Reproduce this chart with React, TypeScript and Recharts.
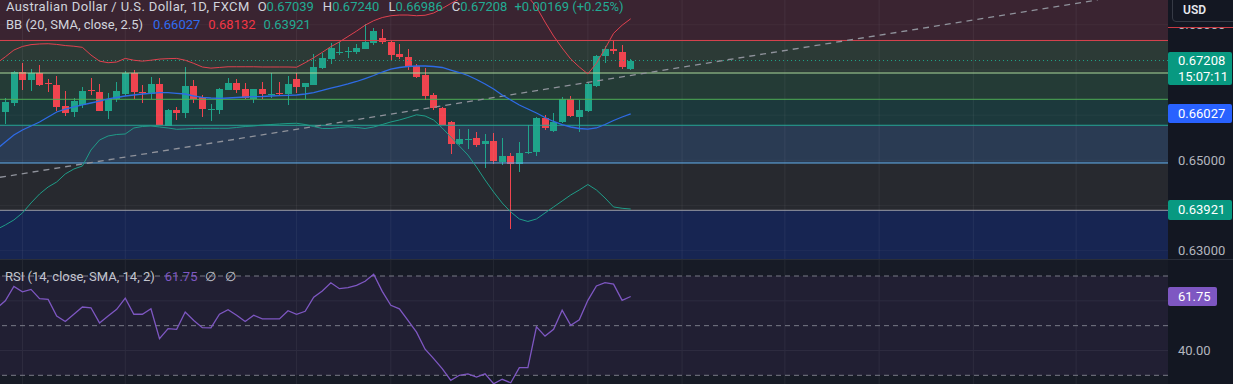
import React from 'react';
import { ComposedChart, Bar, Line, XAxis, YAxis, ReferenceArea, ReferenceLine } from 'recharts';

// ---- OHLC (bars 0..73) ----
const opens = [0.66076,0.66276,0.66961,0.66778,0.66926,0.66712,0.66667,0.66203,0.66054,0.66225,0.6655,0.66519,0.66099,0.66351,0.66468,0.66926,0.66502,0.66468,0.66689,0.65759,0.66114,0.66054,0.66645,0.66395,0.66103,0.66114,0.66557,0.66718,0.66572,0.66351,0.66572,0.66461,0.6649,0.66468,0.66793,0.66616,0.66667,0.67036,0.67242,0.67364,0.6739,0.67404,0.67464,0.67586,0.67697,0.67621,0.67343,0.6729,0.67094,0.66888,0.66446,0.66164,0.65841,0.65354,0.65443,0.655,0.65361,0.65434,0.64969,0.65095,0.64918,0.65162,0.65168,0.6593,0.65655,0.65832,0.66351,0.65965,0.66099,0.66645,0.67294,0.67454,0.67401,0.67039];
const highs = [0.66374,0.66984,0.67148,0.67014,0.6711,0.66793,0.66866,0.66542,0.66374,0.6663,0.66815,0.66689,0.66497,0.6674,0.66984,0.66999,0.66667,0.6685,0.66815,0.66129,0.66188,0.67073,0.66778,0.66446,0.66247,0.66594,0.66815,0.66793,0.66704,0.6658,0.6674,0.66926,0.6674,0.66866,0.66926,0.66718,0.67353,0.67368,0.6759,0.67625,0.67514,0.67567,0.68006,0.67931,0.67902,0.67663,0.67564,0.6746,0.67125,0.67036,0.66483,0.6619,0.6587,0.65693,0.65686,0.65633,0.65582,0.65598,0.65487,0.65168,0.65412,0.65781,0.65952,0.66003,0.66054,0.66395,0.66424,0.66336,0.66718,0.67331,0.67526,0.67647,0.67548,0.6724];
const lows = [0.65805,0.66203,0.66557,0.66519,0.66645,0.66497,0.66099,0.65996,0.65952,0.66174,0.66446,0.66092,0.65929,0.66297,0.66424,0.66351,0.66276,0.66374,0.65766,0.6575,0.65893,0.65952,0.66276,0.65952,0.65877,0.66025,0.66542,0.66483,0.66351,0.66276,0.66374,0.66374,0.66446,0.66225,0.66483,0.66374,0.66656,0.67014,0.67125,0.67331,0.67271,0.67346,0.67453,0.67564,0.67564,0.67195,0.67221,0.66999,0.66815,0.66336,0.66114,0.65783,0.65133,0.65339,0.65243,0.65301,0.64823,0.64918,0.64896,0.63495,0.64748,0.65139,0.65095,0.65672,0.65626,0.65819,0.65952,0.65633,0.66077,0.66623,0.67157,0.67349,0.67014,0.66986];
const closes = [0.66292,0.66961,0.66793,0.66939,0.66667,0.66701,0.66188,0.66054,0.66305,0.66535,0.66527,0.66099,0.66365,0.66535,0.66926,0.66497,0.6649,0.66689,0.65781,0.66114,0.66054,0.66645,0.66351,0.66136,0.66125,0.66572,0.66718,0.66557,0.66373,0.66572,0.66468,0.66474,0.66476,0.66689,0.66616,0.66704,0.67059,0.67257,0.67492,0.67386,0.67419,0.67492,0.67608,0.67858,0.67608,0.67343,0.67268,0.67072,0.6685,0.6643,0.66151,0.65796,0.65354,0.65471,0.65465,0.65354,0.65427,0.64991,0.65095,0.64918,0.65168,0.65177,0.6593,0.65708,0.65854,0.66351,0.65965,0.66114,0.66689,0.67309,0.67454,0.67401,0.67058,0.67208];

// ---- Bollinger Bands & RSI (bars -1..73) ----
const bbUpper = [0.6715,0.6729,0.6744,0.6752,0.6756,0.67575,0.6758,0.67565,0.6754,0.67525,0.675,0.6733,0.67195,0.6716,0.67175,0.67255,0.67215,0.67195,0.67215,0.6724,0.6725,0.67255,0.67215,0.67145,0.67065,0.6704,0.67055,0.6707,0.6707,0.6707,0.6707,0.67065,0.67065,0.67065,0.67065,0.6706,0.6716,0.6727,0.6739,0.67515,0.6762,0.6774,0.6786,0.6799,0.6809,0.6816,0.682,0.68215,0.68215,0.682,0.6821,0.6826,0.6836,0.6847,0.6857,0.6864,0.68724,0.68814,0.68858,0.68835,0.68812,0.68747,0.68624,0.68393,0.6806,0.67751,0.67485,0.67242,0.67065,0.66912,0.6715,0.6747,0.6781,0.6799,0.68132];
const bbMiddle = [0.6525,0.65405,0.6556,0.65671,0.65759,0.65848,0.65958,0.66069,0.66135,0.6618,0.66224,0.66268,0.66312,0.66357,0.6639,0.66423,0.66445,0.66467,0.66483,0.66496,0.66496,0.66483,0.66467,0.66423,0.66394,0.66379,0.66372,0.66379,0.6639,0.66401,0.66407,0.66412,0.66423,0.6643,0.66438,0.66445,0.66467,0.665,0.66545,0.666,0.66644,0.66689,0.66744,0.6681,0.66877,0.66954,0.6702,0.67054,0.67076,0.67087,0.67087,0.67076,0.67054,0.66998,0.66943,0.66877,0.66788,0.66689,0.66578,0.66445,0.66334,0.66224,0.66135,0.66047,0.65947,0.65859,0.65792,0.65737,0.65704,0.65688,0.65715,0.65792,0.65881,0.65958,0.66027];
const bbLower = [0.6347,0.63568,0.63679,0.63834,0.64055,0.64254,0.64409,0.6452,0.64697,0.64807,0.64874,0.65228,0.65449,0.65538,0.65571,0.65582,0.65715,0.65748,0.65759,0.65737,0.65715,0.65686,0.65693,0.65704,0.65708,0.65708,0.65708,0.65708,0.65726,0.65748,0.65759,0.65781,0.65792,0.65803,0.65814,0.65819,0.65792,0.65748,0.65704,0.65704,0.65726,0.65741,0.65726,0.65704,0.65737,0.65792,0.65848,0.65892,0.65947,0.66007,0.6598,0.65892,0.65715,0.65516,0.65316,0.65117,0.64852,0.64564,0.64298,0.64055,0.63856,0.63701,0.63646,0.63701,0.63834,0.63967,0.64099,0.64232,0.64343,0.64464,0.64343,0.64166,0.63967,0.63938,0.63921];
const rsiValues = [57.0,60.0,65.8,63.6,64.6,60.9,60.6,53.9,51.7,54.6,57.5,57.2,51.1,53.9,56.6,61.1,54.6,54.6,56.8,44.8,48.8,48.5,55.5,52.1,49.2,49.1,54.6,56.4,54.2,51.7,54.2,52.7,52.7,52.7,56.0,54.6,55.8,61.5,64.0,67.3,64.9,65.3,66.2,67.9,70.7,63.8,58.2,56.8,52.1,47.4,40.5,36.7,32.7,28.0,30.0,30.6,29.3,30.6,26.6,28.4,27.0,33.1,33.1,49.5,45.8,48.5,56.2,50.1,52.4,60.2,66.0,67.3,66.7,60.2,61.75];

// ---- drawings ----
const levelPrices = [0.67652, 0.66932, 0.6635, 0.65775, 0.6494, 0.63893];
const levelColors = ['#d9434f', '#a9d99b', '#4fae55', '#26a896', '#64b1ee', '#9a9da6'];
const zoneColors = ['#3a2431', '#2c3a36', '#243b36', '#1c393c', '#2a3b53', '#27292f', '#172552'];
const priceTop = 0.68548;
const priceBottom = 0.62815;
const trendline = [{ x: -0.62, y: 0.64624 }, { x: 127.5, y: 0.68548 }];
const lastClose = 0.67208;
const gridBars = [2, 14, 34, 45, 57, 68, 79, 91, 102, 113, 125];
const priceGrid = [0.63, 0.64, 0.65, 0.66, 0.67, 0.68];
const priceTicks = [0.63, 0.65, 0.68];
const rsiTicks = [40];
const rsiBands = [70, 50, 30];
const rsiGrid = [60, 40];
const xDomain: [number, number] = [-0.62, 135.72];

const UP = '#1fa48a';
const DOWN = '#f0444f';

const rows = bbMiddle.map((m, k) => {
  const i = k - 1;
  const has = i >= 0;
  return {
    i,
    o: has ? opens[i] : null,
    h: has ? highs[i] : null,
    l: has ? lows[i] : null,
    c: has ? closes[i] : null,
    up: bbUpper[k],
    mid: m,
    lo: bbLower[k],
    rsi: rsiValues[k],
  };
});

const zoneEdges = [priceTop, ...levelPrices, priceBottom];

const Candle = (props: any) => {
  const { x, y, width, height, payload } = props;
  if (!payload || payload.o == null || !isFinite(y)) return null;
  const { o, h, l, c } = payload;
  const range = h - l;
  const ratio = range > 0 ? height / range : 0;
  const yO = y + (h - o) * ratio;
  const yC = y + (h - c) * ratio;
  const color = c >= o ? UP : DOWN;
  const cx = x + width / 2;
  const bodyW = 7;
  const left = Math.round(cx - bodyW / 2);
  const top = Math.round(Math.min(yO, yC));
  const bh = Math.max(1, Math.round(Math.abs(yC - yO)));
  return (
    <g>
      <rect x={left + 3} y={Math.round(y)} width={1} height={Math.max(1, Math.round(height))} fill={color} />
      <rect x={left} y={top} width={bodyW} height={bh} fill={color} />
    </g>
  );
};

const Tag = ({ top, height, bg, width = 64, children }: any) => (
  <div
    style={{
      position: 'absolute', left: 1168, top, width, height, background: bg,
      borderRadius: 2, color: '#ffffff', fontSize: 13, lineHeight: '16px',
      paddingLeft: 10, boxSizing: 'border-box', display: 'flex', flexDirection: 'column', justifyContent: 'center',
    }}
  >
    {children}
  </div>
);

const tickStyle = { fill: '#b2b5be', fontSize: 13 };

export default function App() {
  return (
    <div style={{ position: 'absolute', left: 0, top: 0, width: 1233, height: 384, background: '#131722', fontFamily: "Roboto, 'Noto Sans', sans-serif", overflow: 'hidden' }}>
      <div style={{ position: 'absolute', left: 0, top: 0 }}>
        <ComposedChart width={1233} height={259} data={rows} margin={{ top: 0, right: 0, bottom: 0, left: 0 }}>
          <XAxis dataKey="i" type="number" domain={xDomain} allowDataOverflow hide />
          <YAxis
            orientation="right" width={65} domain={[priceBottom, priceTop]} allowDataOverflow
            ticks={priceTicks} tickFormatter={(v: number) => v.toFixed(5)} axisLine={false} tickLine={false}
            tick={tickStyle} tickMargin={4}
          />
          {zoneColors.map((col, k) => (
            <ReferenceArea key={'z' + k} y1={zoneEdges[k + 1]} y2={zoneEdges[k]} fill={col} fillOpacity={1} stroke="none" ifOverflow="hidden" />
          ))}
          {gridBars.map((g) => (
            <ReferenceLine key={'g' + g} x={g} stroke="rgba(255,255,255,0.06)" strokeWidth={1} ifOverflow="hidden" />
          ))}
          {priceGrid.map((t) => (
            <ReferenceLine key={'h' + t} y={t} stroke="rgba(255,255,255,0.04)" strokeWidth={1} ifOverflow="hidden" />
          ))}
          {levelPrices.map((p, k) => (
            <ReferenceLine key={'l' + k} y={p} stroke={levelColors[k]} strokeWidth={1} ifOverflow="hidden" />
          ))}
          <ReferenceLine y={lastClose} stroke="#1fa48a" strokeDasharray="1 3" strokeWidth={1} ifOverflow="hidden" />
          <ReferenceLine segment={trendline} stroke="#8f929b" strokeDasharray="6 5" strokeWidth={1.3} ifOverflow="hidden" />
          <Line dataKey="up" stroke="#e0414f" strokeWidth={1} dot={false} isAnimationActive={false} />
          <Line dataKey="mid" stroke="#2e6be6" strokeWidth={1.3} dot={false} isAnimationActive={false} />
          <Line dataKey="lo" stroke="#1f9c88" strokeWidth={1} dot={false} isAnimationActive={false} />
          <Bar
            dataKey={(d: any) => (d.o == null ? null : [d.l, d.h])}
            barSize={7}
            shape={(p: any) => <Candle {...p} />}
            isAnimationActive={false}
          />
        </ComposedChart>
      </div>

      <div style={{ position: 'absolute', left: 0, top: 259, width: 1233, height: 125, borderTop: '1px solid #2a2e39', boxSizing: 'border-box' }}>
        <ComposedChart width={1233} height={124} data={rows} margin={{ top: 0, right: 0, bottom: 0, left: 0 }}>
          <XAxis dataKey="i" type="number" domain={xDomain} allowDataOverflow hide />
          <YAxis
            orientation="right" width={65} domain={[26.5, 76.45]} allowDataOverflow ticks={rsiTicks}
            tickFormatter={(v: number) => v.toFixed(2)} axisLine={false} tickLine={false} tick={tickStyle} tickMargin={4}
          />
          <ReferenceArea y1={26.5} y2={76.45} fill="#171b26" fillOpacity={1} stroke="none" ifOverflow="hidden" />
          <ReferenceArea y1={30} y2={70} fill="#211f33" fillOpacity={1} stroke="none" ifOverflow="hidden" />
          {gridBars.map((g) => (
            <ReferenceLine key={'rg' + g} x={g} stroke="rgba(255,255,255,0.06)" strokeWidth={1} ifOverflow="hidden" />
          ))}
          {rsiGrid.map((v) => (
            <ReferenceLine key={'rl' + v} y={v} stroke="#2e2c40" strokeWidth={1} ifOverflow="hidden" />
          ))}
          {rsiBands.map((v) => (
            <ReferenceLine key={'rb' + v} y={v} stroke="#787b86" strokeDasharray="5 4" strokeWidth={1} ifOverflow="hidden" />
          ))}
          <Line dataKey="rsi" stroke="#7e57c2" strokeWidth={1.3} dot={false} isAnimationActive={false} />
        </ComposedChart>
      </div>

      {/* legends */}
      <div style={{ position: 'absolute', left: 6, top: -2, fontSize: 13, lineHeight: '18px', color: '#d1d4dc', whiteSpace: 'nowrap' }}>
        <div>
          <span style={{ letterSpacing: '0.38px' }}>Australian Dollar / U.S. Dollar, 1D, FXCM</span>
          <span style={{ marginLeft: 8 }}>O</span><span style={{ color: '#22ab94' }}>0.67039</span>
          <span style={{ marginLeft: 9 }}>H</span><span style={{ color: '#22ab94' }}>0.67240</span>
          <span style={{ marginLeft: 9 }}>L</span><span style={{ color: '#22ab94' }}>0.66986</span>
          <span style={{ marginLeft: 9 }}>C</span><span style={{ color: '#22ab94' }}>0.67208</span>
          <span style={{ marginLeft: 7, color: '#22ab94' }}>+0.00169 (+0.25%)</span>
        </div>
        <div>
          <span>BB (20, SMA, close, 2.5)</span>
          <span style={{ marginLeft: 10, color: '#2f6cf0' }}>0.66027</span>
          <span style={{ marginLeft: 8, color: '#f23645' }}>0.68132</span>
          <span style={{ marginLeft: 8, color: '#22ab94' }}>0.63921</span>
        </div>
      </div>
      <div style={{ position: 'absolute', left: 5, top: 268, fontSize: 13, lineHeight: '18px', color: '#c3c6ce', whiteSpace: 'nowrap' }}>
        <span>RSI (14, close, SMA, 14, 2)</span>
        <span style={{ marginLeft: 10, color: '#7e57c2' }}>61.75</span>
        <span style={{ marginLeft: 8 }}>∅</span>
        <span style={{ marginLeft: 9 }}>∅</span>
      </div>

      {/* axis overlays */}
      <div style={{ position: 'absolute', left: 1168, top: 0, width: 65, height: 27, background: '#131722', borderBottom: '1px solid #c83a44' }} />
      <div style={{ position: 'absolute', left: 1172, top: -5, width: 70, height: 27, border: '1px solid #363a45', borderRadius: 4, boxSizing: 'border-box', color: '#e6e8ee', fontSize: 12, fontWeight: 600, paddingLeft: 10, paddingTop: 7 }}>USD</div>

      <Tag top={52} height={33} bg="#089981">
        <div>0.67208</div>
        <div>15:07:11</div>
      </Tag>
      <Tag top={104} height={19} bg="#2962ff"><div>0.66027</div></Tag>
      <Tag top={200} height={20} bg="#089981"><div>0.63921</div></Tag>
      <Tag top={287} height={19} width={49} bg="#7e57c2"><div>61.75</div></Tag>
    </div>
  );
}
